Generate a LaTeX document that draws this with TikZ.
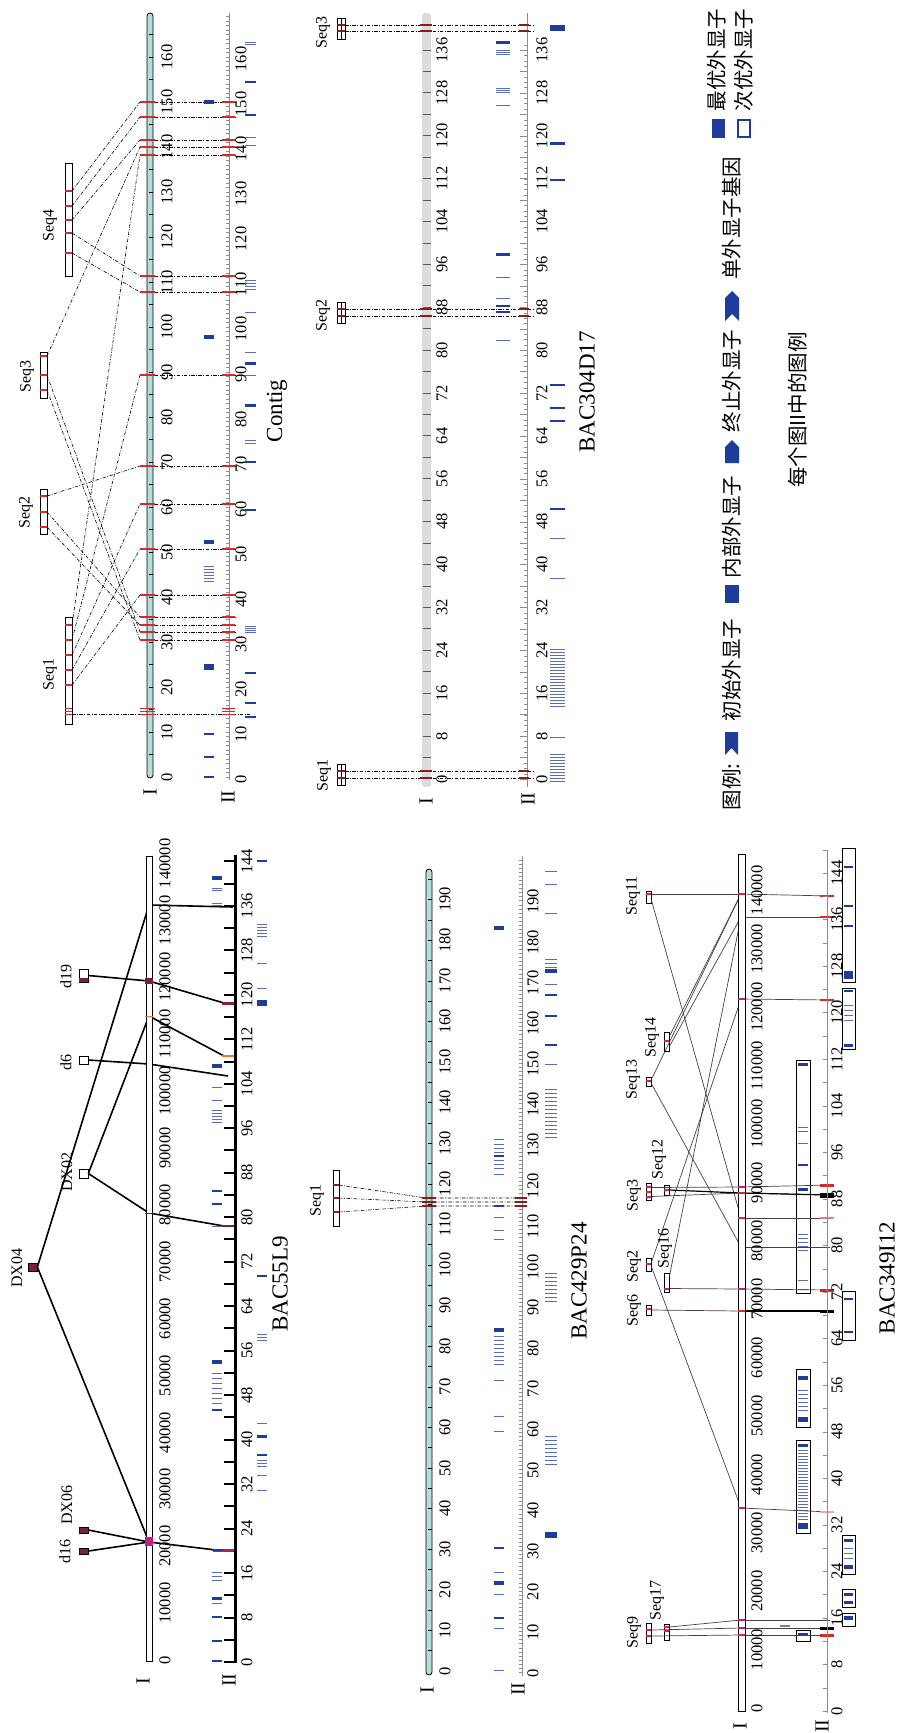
\documentclass[tikz,border=0pt]{standalone}
\usepackage{fontspec}
\setmainfont{Liberation Serif}
\newfontfamily\cjk{Noto Sans CJK SC}
\usepackage{tikz}
\usetikzlibrary{positioning}

\definecolor{barcyan}{HTML}{B6DCDC}
\definecolor{barfog}{HTML}{DCDCDC}
\definecolor{markred}{HTML}{D42A2A}
\definecolor{darkred}{HTML}{8C1C1C}
\definecolor{exonblue}{HTML}{1E3C9C}
\definecolor{paleblue}{HTML}{5A6CC0}
\definecolor{maroon}{HTML}{7A1E44}
\definecolor{pinkmag}{HTML}{C02080}
\definecolor{rulegray}{HTML}{8C8C8C}
\definecolor{linkgray}{HTML}{4D3A4D}
\definecolor{markorange}{HTML}{F07820}

\tikzset{
  numlbl/.style={rotate=90, inner sep=0pt, font=\fontsize{16.5}{16.5}\selectfont},
  axlbl/.style={rotate=90, inner sep=0pt, font=\fontsize{20}{20}\selectfont},
  seqlbl/.style={rotate=90, inner sep=0pt, font=\fontsize{16}{16}\selectfont},
  titlelbl/.style={rotate=90, inner sep=0pt, font=\fontsize{23}{23}\selectfont},
  cjklbl/.style={rotate=90, inner sep=0pt, font=\cjk\fontsize{20.5}{20.5}\selectfont},
  cyanbar/.style={draw=black, fill=barcyan, line width=0.8, rounded corners=3},
  seqbox/.style={draw=black, fill=white, line width=0.7, inner sep=0pt},
  ddash/.style={line width=0.6, dash pattern=on 3.5pt off 1.5pt on 0.8pt off 1.5pt},
  redmark/.style={draw=markred, line width=2.2},
  dredmark/.style={draw=darkred, line width=1.6},
  exon/.style={fill=exonblue},
  pstripe/.style={draw=paleblue, line width=1},
  blink/.style={line width=1.6, draw=black},
  glink/.style={line width=0.7, draw=linkgray},
  genebox/.style={draw=black, fill=white, line width=0.9},
}

\begin{document}
\begin{tikzpicture}[x=1pt, y=-1pt]
    \useasboundingbox (0,0) rectangle (897,1733);

    %% ---------- Contig ----------
    \foreach \y [count=\i] in {102,117,140,147,155,276,292,375,466,504,549,595,617,625,632,640} {
        \coordinate (ca\i) at (140,\y);
        \coordinate (cb\i) at (235,\y);
        \draw[ddash] (ca\i) -- (cb\i);
    }
    \node[seqbox, minimum width=7pt, minimum height=113pt] (seq4) at (68.5,219.5) {};
    \node[seqbox, minimum width=7pt, minimum height=46pt] (seq3) at (43.5,375) {};
    \node[seqbox, minimum width=7pt, minimum height=45pt] (seq2) at (43.5,511.5) {};
    \node[seqbox, minimum width=7pt, minimum height=107pt] (seq1) at (68.5,670.5) {};
    \foreach \x/\y/\tg [count=\i] in {72/191/1,72/206/2,72/220/3,72/233/6,72/253/7,
        47/356/4,47/375/15,47/390/16,47/496/9,47/512/13,47/527/14,
        72/625/5,72/640/8,72/655/10,72/670/11,72/685/12} {
        \coordinate (cq\i) at (\x,\y);
        \draw[ddash] (cq\i) -- (ca\tg);
        \draw[redmark] (\x-7,\y) -- (\x,\y);
    }
    \coordinate (cq0) at (72,714);
    \coordinate (cend) at (250,714);
    \draw[ddash] (cq0) -- (cend);
    \draw[cyanbar] (147,13) rectangle (153,778);
    \foreach \val in {5,10,...,165} \draw[line width=0.6] (149,{777-4.5*\val}) -- (153,{777-4.5*\val});
    \foreach \val in {0,10,...,160} \node[numlbl] (cI\val) at (167,{777-4.5*\val}) {\val};
    \node[axlbl] (cIlab) at (150,792) {I};
    \draw[rulegray, line width=0.8] (229,13) -- (229,780);
    \foreach \val in {0,...,169} \draw[rulegray, line width=0.3] (226,{777-4.5*\val}) -- (229,{777-4.5*\val});
    \foreach \val in {0,10,...,160} \node[numlbl] (cII\val) at (241,{779-4.5*\val}) {\val};
    \node[axlbl] (cIIlab) at (228,797) {II};
    \foreach \y in {102,117,140,147,155,276,292,375,466,504,549,595,617,625,632,640} {
        \draw[redmark] (140,\y) -- (155,\y);
        \draw[redmark] (222,\y) -- (235,\y);
    }
    \foreach \y in {708,711,714} {
        \draw[markred, line width=0.5] (65,\y) -- (72,\y);
        \draw[markred, line width=0.5] (140,\y) -- (155,\y);
        \draw[markred, line width=0.5] (222,\y) -- (235,\y);
    }
    % exons
    \foreach \y/\hh in {100/4,335/4,540/4,664/6,733/2,756/2,776/2}
        \fill[exon] (204,\y) rectangle (214,\y+\hh);
    \foreach \y in {566,569,572,575,578,581} \draw[pstripe] (204,\y) -- (214,\y);
    \foreach \y/\hh in {81/2,114/2,362/3,404/3,461/2,509/2,672/2,702/1.5,716/2}
        \fill[exon] (245,\y) rectangle (256,\y+\hh);
    \foreach \y in {42,44,137,145,280,283,286,289,312,352,375,440,443,626,628,630,632}
        \draw[pstripe] (245,\y) -- (256,\y);
    \node[seqlbl] (seq4lab) at (50,225) {Seq4};
    \node[seqlbl] (seq3lab) at (27,376) {Seq3};
    \node[seqlbl] (seq2lab) at (26,512) {Seq2};
    \node[seqlbl] (seq1lab) at (50,674) {Seq1};
    \node[titlelbl] (contiglab) at (277,411) {Contig};

    %% ---------- BAC304D17 ----------
    \fill[barfog, rounded corners=3] (422,13) rectangle (431,787);
    \foreach \val in {4,8,...,136} \draw[black!65, line width=1] (423,{779-5.36*\val}) -- (431,{779-5.36*\val});
    \foreach \val in {0,8,...,136} \node[numlbl] (dI\val) at (442,{779-5.36*\val}) {\val};
    \node[axlbl] (dIlab) at (426,801) {I};
    \draw[rulegray, line width=0.8] (527,13) -- (527,787);
    \foreach \val in {0,...,137} \draw[rulegray, line width=0.3] (524,{779-5.36*\val}) -- (527,{779-5.36*\val});
    \foreach \val in {0,4,...,136} \draw[rulegray, line width=0.4] (520,{779-5.36*\val}) -- (527,{779-5.36*\val});
    \foreach \val in {0,8,...,136} \node[numlbl] (dII\val) at (542,{779-5.36*\val}) {\val};
    \node[axlbl] (dIIlab) at (528,799) {II};
    \node[seqbox, minimum width=8pt, minimum height=21pt] (dseq3) at (341,28.5) {};
    \node[seqbox, minimum width=8pt, minimum height=21pt] (dseq2) at (341,312.5) {};
    \node[seqbox, minimum width=8pt, minimum height=21pt] (dseq1) at (341,774.5) {};
    \foreach \nm in {dseq3,dseq2,dseq1} \draw[line width=0.6] (\nm.north) -- (\nm.south);
    \foreach \y [count=\i] in {25,31,309,316,771,778} {
        \coordinate (dl\i) at (345,\y);
        \coordinate (dr\i) at (533,\y);
        \draw[ddash] (dl\i) -- (dr\i);
        \draw[dredmark] (337,\y) -- (345,\y);
        \draw[dredmark] (420,\y) -- (432,\y);
        \draw[dredmark] (519,\y) -- (529,\y);
    }
    \foreach \y/\hh in {41/3,253/3,305/2,311/2}
        \fill[exon] (496,\y) rectangle (510,\y+\hh);
    \foreach \y in {50,52,54,88,90,92,105,277,298,340} \draw[pstripe] (496,\y) -- (510,\y);
    \foreach \y/\hh in {25/6,142/3,179/1.5,384/1.5,407/2,420/2,508/1.5}
        \fill[exon] (550,\y) rectangle (565,\y+\hh);
    \foreach \y in {538,578,737,649,652,655,658,661,664,667,670,673,676,679,682,685,688,691,694,697,700,703,706,
        754,757,760,763,766,769,772,775,778,781}
        \draw[pstripe] (550,\y) -- (565,\y);
    \node[seqlbl] (dseq3lab) at (323,32) {Seq3};
    \node[seqlbl] (dseq2lab) at (323,315) {Seq2};
    \node[seqlbl] (dseq1lab) at (324,775) {Seq1};
    \node[titlelbl] (dtitle) at (587,392) {BAC304D17};

    %% ---------- legend ----------
    \node[cjklbl] (lgtitle) at (732,787) {图例:};
    \fill[exonblue] (725,732) -- (738,732) -- (738,755) -- (731.5,748) -- (725,755) -- cycle;
    \node[cjklbl] (lgfirst) at (732,670) {初始外显子};
    \fill[exonblue] (725,585) rectangle (739,603);
    \node[cjklbl] (lginner) at (732,527) {内部外显子};
    \fill[exonblue] (725,463) -- (739,463) -- (739,447) -- (732,440) -- (725,447) -- cycle;
    \node[cjklbl] (lglast) at (732,381) {终止外显子};
    \fill[exonblue] (725,321) -- (732,314) -- (739,321) -- (739,298) -- (732,291) -- (725,298) -- cycle;
    \node[cjklbl] (lgsingle) at (732,218) {单外显子基因};
    \fill[exonblue] (712,119) rectangle (725,138);
    \node[cjklbl] (lgbest) at (717,60) {最优外显子};
    \draw[exonblue, line width=1.6] (738,120) rectangle (750,137);
    \node[cjklbl] (lgsecond) at (744,60) {次优外显子};
    \node[cjklbl] (lgnote) at (798,410) {每个图II中的图例};

    %% ---------- BAC55L9 ----------
    \node[seqbox, fill=maroon, minimum width=9pt, minimum height=8pt] (dx04) at (32.5,1267) {};
    \node[seqbox, minimum width=9pt, minimum height=9pt] (dx02) at (83.5,1173.5) {};
    \node[seqbox, minimum width=9pt, minimum height=8pt] (d6) at (83.5,1060) {};
    \node[seqbox, minimum width=9pt, minimum height=13pt] (d19) at (83.5,975.5) {};
    \fill[maroon] (79,978) rectangle (88,982);
    \node[seqbox, fill=maroon, minimum width=9pt, minimum height=6pt] (dx06) at (83.5,1530) {};
    \node[seqbox, fill=maroon, minimum width=9pt, minimum height=6pt] (d16) at (83.5,1551) {};
    \coordinate (bI1) at (149,905);
    \coordinate (bI2) at (149,981);
    \coordinate (bI3) at (149,1016);
    \coordinate (bI4) at (149,1064);
    \coordinate (bI5) at (149,1213);
    \coordinate (bI6) at (149,1542);
    \coordinate (bII1) at (233,907);
    \coordinate (bII2) at (224,1003);
    \coordinate (bII3) at (224,1056);
    \coordinate (bII4) at (228,1076);
    \coordinate (bII5) at (224,1226);
    \coordinate (bII6) at (216,1550);
    \draw[blink] (dx04.east) -- (bI1) -- (bII1);
    \draw[blink] (dx04.east) -- (bI6) -- (bII6);
    \draw[blink] (dx06.east) -- (bI6);
    \draw[blink] (d16.east) -- (bI6);
    \draw[blink] (dx02.east) -- (bI5) -- (bII5);
    \draw[blink] (dx02.east) -- (bI3) -- (bII3);
    \draw[blink] (d6.east) -- (bI4) -- (bII4);
    \draw[blink] (d19.east) -- (bI2) -- (bII2);
    \draw[fill=white, line width=0.8] (146,856) rectangle (152,1661);
    \foreach \k in {0,...,14} \node[numlbl] (bI\k) at (165,{1660-56.9*\k}) {\ifnum\k=0 0\else\k0000\fi};
    \node[axlbl] (bIlab) at (143,1681) {I};
    \draw[line width=3] (235,855) -- (235,1663);
    \foreach \val in {0,4,...,144} \draw[line width=2] (224,{1662-5.56*\val}) -- (235,{1662-5.56*\val});
    \foreach \val in {0,8,...,144} \node[numlbl] (bII\val) at (247,{1662-5.56*\val}) {\val};
    \node[axlbl] (bIIlab) at (229,1680) {II};
    \fill[pinkmag] (145,1537) rectangle (153,1546);
    \fill[maroon] (145,978) rectangle (153,984);
    \draw[markorange, line width=1] (145,1016) -- (153,1016);
    \draw[maroon, line width=1] (145,1213) -- (153,1213);
    \draw[pinkmag!70!maroon, line width=3] (213,1550) -- (234,1550);
    \draw[maroon, line width=2] (221,1226) -- (234,1226);
    \draw[markorange, line width=1.2] (222,1056) -- (234,1056);
    \draw[maroon!80!pinkmag, line width=3] (222,1003) -- (234,1003);
    \foreach \y/\hh in {876/4,1064/4,1190/2,1203/2,1360/4,1409/2,1549/2,1597/3,1616/2,1640/2,1660/2}
        \fill[exon] (212,\y) rectangle (222,\y+\hh);
    \foreach \y in {888,890,903,905,1087,1100,1110,1113,1116,1119,1122,1226,1373,1378,1383,1388,1393,1398,1403,1572,1576,1580,1603}
        \draw[pstripe] (212,\y) -- (222,\y);
    \foreach \y/\hh in {860/2,1000/6,1275/2,1435/3,1454/2}
        \fill[exon] (257,\y) rectangle (267,\y+\hh);
    \foreach \y in {924,927,930,933,936,963,988,1334,1337,1340,1423,1460,1463,1466,1475,1490}
        \draw[pstripe] (257,\y) -- (267,\y);
    \node[seqlbl] (dx04lab) at (17,1268) {DX04};
    \node[seqlbl] (dx02lab) at (67,1172) {DX02};
    \node[seqlbl] (d6lab) at (66,1062) {d6};
    \node[seqlbl] (d19lab) at (66,976) {d19};
    \node[seqlbl] (dx06lab) at (67,1505) {DX06};
    \node[seqlbl] (d16lab) at (65,1551) {d16};
    \node[titlelbl] (btitle) at (280,1284) {BAC55L9};

    %% ---------- BAC429P24 ----------
    \node[seqbox, minimum width=6pt, minimum height=56pt] (pseq1) at (336,1198) {};
    \foreach \ya/\yb [count=\i] in {1185/1198,1198/1202,1212/1206} {
        \coordinate (pl\i) at (339,\ya);
        \coordinate (pm\i) at (426,\yb);
        \coordinate (pr\i) at (527,\yb);
        \draw[ddash] (pl\i) -- (pm\i) -- (pr\i);
    }
    \draw[cyanbar] (426,869) rectangle (432,1675);
    \foreach \val in {5,10,...,195} \draw[line width=0.6] (428,{1671-4.06*\val}) -- (432,{1671-4.06*\val});
    \foreach \val in {0,10,...,190} \node[numlbl] (pI\val) at (445,{1671-4.06*\val}) {\val};
    \node[axlbl] (pIlab) at (427,1690) {I};
    \draw[rulegray, line width=0.8] (522,856) -- (522,1676);
    \foreach \val in {0,...,200} \draw[rulegray, line width=0.3] (519,{1672-4.06*\val}) -- (522,{1672-4.06*\val});
    \foreach \val in {0,10,...,190} \node[numlbl] (pII\val) at (533,{1673-4.06*\val}) {\val};
    \node[axlbl] (pIIlab) at (518,1689) {II};
    \foreach \ya/\yb in {1185/1198,1198/1202,1212/1206} {
        \draw[dredmark] (333,\ya) -- (339,\ya);
        \draw[dredmark] (422,\yb) -- (436,\yb);
        \draw[dredmark] (515,\yb) -- (527,\yb);
    }
    \foreach \y/\hh in {926/4,1155/2,1205/2,1328/4,1547/2,1581/4,1617/2}
        \fill[exon] (494,\y) rectangle (504,\y+\hh);
    \foreach \y in {1139,1144,1148,1152,1160,1164,1168,1174,1217,1230,1239,1336,1340,1344,1348,1352,1356,1360,1364,1380,1416,1431,1572,1594,1628,1670}
        \draw[pstripe] (494,\y) -- (504,\y);
    \foreach \y/\hh in {969/4,994/2,1015/2,1044/2,1532/6}
        \fill[exon] (545,\y) rectangle (557,\y+\hh);
    \foreach \y in {871,884,913,959,963,967,984,1064,1089,1093,1097,1101,1105,1109,1113,1117,1121,1125,1129,1133,1137,
        1273,1277,1281,1285,1289,1293,1297,1301,1436,1440,1444,1448,1452,1456,1460,1464}
        \draw[pstripe] (545,\y) -- (557,\y);
    \node[seqlbl] (pseq1lab) at (317,1200) {Seq1};
    \node[titlelbl] (ptitle) at (579,1281) {BAC429P24};

    %% ---------- BAC349I12 ----------
    \foreach \ya/\yb in {1060/1293,1369/1427,1440/1533,1630/1641} \draw[genebox] (796,\ya) rectangle (810,\yb);
    \foreach \ya/\yb in {848/982,988/1049,1291/1340,1535/1574,1589/1607,1613/1626} \draw[genebox] (842,\ya) rectangle (855,\yb);
    \foreach \y/\hh in {1063/3,1164/2,1188/3,1376/4,1417/5,1444/3,1523/6,1633/3}
        \fill[exon] (798,\y) rectangle (808,\y+\hh);
    \foreach \y in {1127,1131,1143,1234,1238,1242,1246,1250,1280,1289,1390,1394,1398,1402,1406,1410,
        1450,1453,1456,1459,1462,1465,1468,1471,1474,1477,1480,1483,1486,1489,1492,1495,1498,1501,1504,1507,1510,1513,1516,1519}
        \draw[pstripe] (798,\y) -- (808,\y);
    \foreach \y/\hh in {866/2,905/2,925/2,971/8,990/2,1044/3,1298/2,1331/2,1539/3,1565/4,1593/3,1601/3,1616/4}
        \fill[exon] (844,\y) rectangle (853,\y+\hh);
    \foreach \y in {1005,1010,1015,1020,1548,1553,1558} \draw[pstripe] (844,\y) -- (853,\y);
    \draw[gray, line width=1.5] (780,1626) -- (790,1626);
    \foreach \y [count=\i] in {894,917,999,1187,1193,1218,1247,1289,1311,1508,1620,1628,1635}
        \coordinate (xa\i) at (741,\y);
    \foreach \y [count=\i] in {896,917,1000,1185,1195,1218,1247,1290,1311,1512,1620,1628,1635}
        \coordinate (xb\i) at (830,\y);
    \foreach \i in {1,...,13} \draw[glink] (xa\i) -- (xb\i);
    \draw[blink, line width=1.2] (xa5) -- (xb5);
    \draw[blink, line width=1.2] (xa9) -- (xb9);
    \node[seqbox, minimum width=5pt, minimum height=12pt] (s11) at (648.5,897) {};
    \node[seqbox, minimum width=5pt, minimum height=9pt] (s13) at (648.5,1081.5) {};
    \node[seqbox, minimum width=5pt, minimum height=19pt] (s14) at (666.5,1041.5) {};
    \node[seqbox, minimum width=5pt, minimum height=10pt] (s12) at (666.5,1190) {};
    \node[seqbox, minimum width=5pt, minimum height=17pt] (s3) at (648.5,1191.5) {};
    \node[seqbox, minimum width=5pt, minimum height=13pt] (s2) at (648.5,1264.5) {};
    \node[seqbox, minimum width=5pt, minimum height=19pt] (s16) at (666.5,1282.5) {};
    \node[seqbox, minimum width=5pt, minimum height=10pt] (s6) at (648.5,1310) {};
    \node[seqbox, minimum width=5pt, minimum height=20pt] (s9) at (648.5,1633) {};
    \node[seqbox, minimum width=5pt, minimum height=16pt] (s17) at (666.5,1632) {};
    \draw[glink] ([yshift=3pt]s11.east) -- (xa1);
    \draw[glink] ([yshift=-3pt]s11.east) -- (xa6);
    \draw[glink] ([yshift=2pt]s13.east) -- (xa1);
    \draw[glink] ([yshift=-2pt]s13.east) -- (xa7);
    \draw[glink] ([yshift=5pt]s14.east) -- (xa1);
    \draw[glink] ([yshift=-5pt]s14.east) -- (xa2);
    \draw[blink, line width=1.2] (s12.east) -- (xa5);
    \draw[glink] ([yshift=4pt]s3.east) -- (xa4);
    \draw[glink] ([yshift=-5pt]s3.east) -- (xa5);
    \draw[glink] ([yshift=2pt]s2.east) -- (xa3);
    \draw[glink] ([yshift=-2pt]s2.east) -- (xa10);
    \draw[glink] ([yshift=-6pt]s16.east) -- (xa8);
    \draw[glink] ([yshift=6pt]s16.east) -- (xa2);
    \draw[glink] (s6.east) -- (xa9);
    \draw[glink] ([yshift=3pt]s9.east) -- (xa12);
    \draw[glink] ([yshift=-3pt]s9.east) -- (xa13);
    \draw[glink] ([yshift=5pt]s17.east) -- (xa11);
    \foreach \x/\y/\cl in {646/894/markred,646/1081/markred,664/1041/markred,664/1190/markred,
        646/1187/pinkmag,646/1192/markred,646/1197/pinkmag,646/1264/pinkmag,664/1289/pinkmag,
        646/1309/markred,646/1630/pinkmag,646/1636/markred,664/1627/pinkmag,664/1631/markred}
        \draw[\cl, line width=1.5] (\x,\y) -- (\x+5,\y);
    \draw[fill=white, line width=0.6] (738,854) rectangle (745,1711);
    \foreach \y/\cl in {894/markred,999/pinkmag,1187/pinkmag,1193/markred,1218/markred,1289/pinkmag,
        1311/markred,1508/pinkmag,1620/pinkmag,1628/pinkmag,1635/markred}
        \draw[\cl, line width=1.5] (738,\y) -- (745,\y);
    \foreach \y/\cl/\wd in {896/markred/2,917/markred/2,1000/markred/2,1185/markred/3,1195/black/5,
        1218/markred!60/2,1290/markred/3,1311/black/3,1512/markred!40/1.5,1628/black/3,1635/markred/3}
        \draw[\cl, line width=\wd] (820,\y) -- (834,\y);
    \foreach \k in {0,...,14} \node[numlbl] (xI\k) at (757,{1708-58.4*\k}) {\ifnum\k=0 0\else\k0000\fi};
    \node[axlbl] (xIlab) at (740,1726) {I};
    \draw[rulegray, line width=0.8] (827,850) -- (827,1713);
    \foreach \val in {0,4,...,148} \draw[rulegray, line width=0.3] (823,{1711-5.82*\val}) -- (827,{1711-5.82*\val});
    \foreach \val in {0,8,...,144} \node[numlbl] (xII\val) at (837,{1711-5.82*\val}) {\val};
    \node[axlbl] (xIIlab) at (822,1726) {II};
    \node[seqlbl] (s11lab) at (633,896) {Seq11};
    \node[seqlbl] (s13lab) at (633,1079) {Seq13};
    \node[seqlbl] (s14lab) at (652,1037) {Seq14};
    \node[seqlbl] (s12lab) at (659,1159) {Seq12};
    \node[seqlbl] (s3lab) at (634,1195) {Seq3};
    \node[seqlbl] (s2lab) at (634,1266) {Seq2};
    \node[seqlbl] (s16lab) at (665,1248) {Seq16};
    \node[seqlbl] (s6lab) at (634,1310) {Seq6};
    \node[seqlbl] (s9lab) at (634,1632) {Seq9};
    \node[seqlbl] (s17lab) at (657,1600) {Seq17};
    \node[titlelbl] (xtitle) at (887,1278) {BAC349I12};
\end{tikzpicture}
\end{document}
